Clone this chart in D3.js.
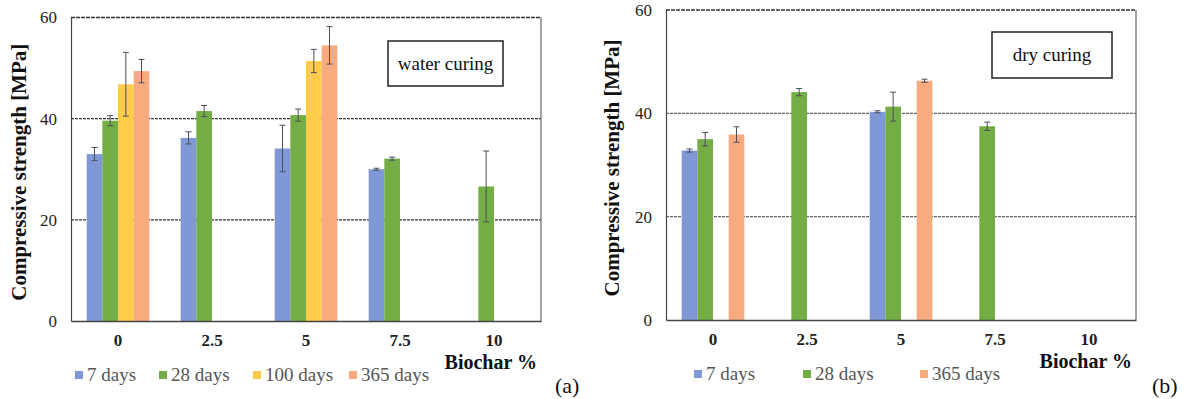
<!DOCTYPE html>
<html>
<head>
<meta charset="utf-8">
<script src="https://cdn.jsdelivr.net/npm/d3@7"></script>
<style>
  html, body { margin: 0; padding: 0; background: #fff; }
  svg { display: block; }
  svg text { font-family: 'Liberation Serif', 'DejaVu Serif', serif; }
</style>
</head>
<body>
<svg id="chart" width="1184" height="399"></svg>
<script>
// Biochar content (% replacement) on the x axis
const categories = ["0", "2.5", "5", "7.5", "10"];
const seriesNames = ["7 days", "28 days", "100 days", "365 days"];
const seriesColors = ["#8099d6", "#74ac45", "#ffcc4a", "#f9ab80"];
const yTicks = [0, 20, 40, 60];

// (a) water curing: mean compressive strength [MPa] and error half-widths
const water7 = [33.0, 36.2, 34.1, 30.0, null];
const water7Err = [1.3, 1.2, 4.6, 0.2, null];
const water28 = [39.6, 41.5, 40.7, 32.1, 26.6];
const water28Err = [1.0, 1.1, 1.2, 0.3, 7.0];
const water100 = [46.8, null, 51.4, null, null];
const water100Err = [6.3, null, 2.3, null, null];
const water365 = [49.4, null, 54.5, null, null];
const water365Err = [2.3, null, 3.7, null, null];

// (b) dry curing (no 100-day tests)
const dry7 = [32.8, null, 40.3, null, null];
const dry7Err = [0.3, null, 0.2, null, null];
const dry28 = [35.0, 44.1, 41.3, 37.5, null];
const dry28Err = [1.3, 0.7, 2.8, 0.8, null];
const dry100 = [null, null, null, null, null];
const dry100Err = [null, null, null, null, null];
const dry365 = [35.9, null, 46.3, null, null];
const dry365Err = [1.5, null, 0.3, null, null];

const FONT = "'Liberation Serif', 'DejaVu Serif', serif";
const svg = d3.select("#chart");

function drawPanel(opt) {
  const g = svg.append("g").attr("font-family", FONT);
  const x0 = d3.scaleBand().domain(categories).range([opt.left, opt.right]).padding(0);
  const bw = x0.bandwidth();
  const x1 = d3.scaleBand().domain(seriesNames).range([bw / 6, bw * 5 / 6]).padding(0);
  const y = d3.scaleLinear().domain([0, 60]).range([opt.bottom, opt.top]);

  // horizontal gridlines
  g.selectAll("line.grid").data([20, 40]).join("line")
    .attr("class", "grid")
    .attr("x1", opt.left).attr("x2", opt.right)
    .attr("y1", d => y(d)).attr("y2", d => y(d))
    .attr("stroke", opt.gridColor).attr("stroke-width", 1.3)
    .attr("stroke-dasharray", "3,1");

  // plot-area frame
  g.append("line").attr("x1", opt.left).attr("x2", opt.right)
    .attr("y1", y(60)).attr("y2", y(60))
    .attr("stroke", "#333").attr("stroke-width", 1.4).attr("stroke-dasharray", "4,1");
  g.append("line").attr("x1", opt.right).attr("x2", opt.right)
    .attr("y1", y(60)).attr("y2", y(0))
    .attr("stroke", "#666").attr("stroke-width", 1.2);

  // bars
  opt.series.forEach((s, si) => {
    const name = seriesNames[si];
    const pts = categories.map((c, i) => ({ c, v: s.values[i], e: s.err[i] }))
      .filter(d => d.v != null);
    g.selectAll(null).data(pts).join("rect")
      .attr("x", d => x0(d.c) + x1(name))
      .attr("width", x1.bandwidth())
      .attr("y", d => y(d.v))
      .attr("height", d => y(0) - y(d.v))
      .attr("fill", seriesColors[si]);
  });

  // error bars
  opt.series.forEach((s, si) => {
    const name = seriesNames[si];
    const pts = categories.map((c, i) => ({ c, v: s.values[i], e: s.err[i] }))
      .filter(d => d.v != null && d.e != null);
    const eb = g.selectAll(null).data(pts).join("g")
      .attr("stroke", "#4a4f5c").attr("stroke-width", 1);
    const cx = d => x0(d.c) + x1(name) + x1.bandwidth() / 2;
    eb.append("line").attr("x1", cx).attr("x2", cx)
      .attr("y1", d => y(d.v + d.e)).attr("y2", d => y(d.v - d.e));
    eb.append("line").attr("x1", d => cx(d) - 3).attr("x2", d => cx(d) + 3)
      .attr("y1", d => y(d.v + d.e)).attr("y2", d => y(d.v + d.e));
    eb.append("line").attr("x1", d => cx(d) - 3).attr("x2", d => cx(d) + 3)
      .attr("y1", d => y(d.v - d.e)).attr("y2", d => y(d.v - d.e));
  });

  // y axis
  const yAxis = g.append("g").attr("transform", `translate(${opt.left},0)`)
    .call(d3.axisLeft(y).tickValues(yTicks).tickSize(0).tickPadding(14));
  yAxis.attr("font-family", FONT);
  yAxis.select(".domain").attr("stroke", "#444").attr("stroke-width", 1.2);
  yAxis.selectAll("text").attr("font-size", 17).attr("fill", "#222");

  // x axis
  const xAxis = g.append("g").attr("transform", `translate(0,${opt.bottom})`)
    .call(d3.axisBottom(x0).tickSize(0).tickPadding(13));
  xAxis.attr("font-family", FONT);
  xAxis.select(".domain").attr("stroke", "#444").attr("stroke-width", 1.4);
  xAxis.selectAll("text").attr("font-size", 17).attr("font-weight", "bold").attr("fill", "#222");

  // axis titles
  g.append("text")
    .attr("transform", `translate(${opt.yTitleX},${(opt.top + opt.bottom) / 2 + 3}) rotate(-90)`)
    .attr("text-anchor", "middle").attr("font-size", 21).attr("font-weight", "bold")
    .attr("fill", "#111").text("Compressive strength [MPa]");
  g.append("text").attr("x", opt.right - 4).attr("y", opt.bottom + 48)
    .attr("text-anchor", "end").attr("font-size", 20).attr("font-weight", "bold")
    .attr("fill", "#111").text("Biochar %");

  // curing label box
  const bx = opt.box;
  g.append("rect").attr("x", bx.x).attr("y", bx.y).attr("width", bx.w).attr("height", bx.h)
    .attr("fill", "#fff").attr("stroke", "#222").attr("stroke-width", 1.5);
  g.append("text").attr("x", bx.x + bx.w / 2).attr("y", bx.y + bx.h / 2 + 6)
    .attr("text-anchor", "middle").attr("font-size", 19).attr("fill", "#111").text(bx.label);

  // legend
  opt.legend.forEach(item => {
    g.append("rect").attr("x", item.x).attr("y", opt.legendY - 4)
      .attr("width", 8).attr("height", 8).attr("fill", seriesColors[item.i]);
    g.append("text").attr("x", item.x + 12).attr("y", opt.legendY + 6)
      .attr("font-size", 19).attr("fill", "#555").text(seriesNames[item.i]);
  });

  // panel tag
  g.append("text").attr("x", opt.tag.x).attr("y", opt.tag.y)
    .attr("font-size", 22).attr("fill", "#111").text(opt.tag.text);
}

drawPanel({
  left: 71, right: 541, top: 17.5, bottom: 321,
  gridColor: "#333",
  yTitleX: 26,
  series: [
    { values: water7, err: water7Err },
    { values: water28, err: water28Err },
    { values: water100, err: water100Err },
    { values: water365, err: water365Err }
  ],
  box: { x: 388, y: 41, w: 115, h: 45, label: "water curing" },
  legendY: 375,
  legend: [{ i: 0, x: 75 }, { i: 1, x: 159 }, { i: 2, x: 253 }, { i: 3, x: 349 }],
  tag: { x: 555, y: 393, text: "(a)" }
});

drawPanel({
  left: 666, right: 1136, top: 10, bottom: 320,
  gridColor: "#666",
  yTitleX: 619,
  series: [
    { values: dry7, err: dry7Err },
    { values: dry28, err: dry28Err },
    { values: dry100, err: dry100Err },
    { values: dry365, err: dry365Err }
  ],
  box: { x: 992, y: 32, w: 120, h: 46, label: "dry curing" },
  legendY: 374,
  legend: [{ i: 0, x: 694 }, { i: 1, x: 803 }, { i: 3, x: 920 }],
  tag: { x: 1152, y: 393, text: "(b)" }
});
</script>
</body>
</html>
